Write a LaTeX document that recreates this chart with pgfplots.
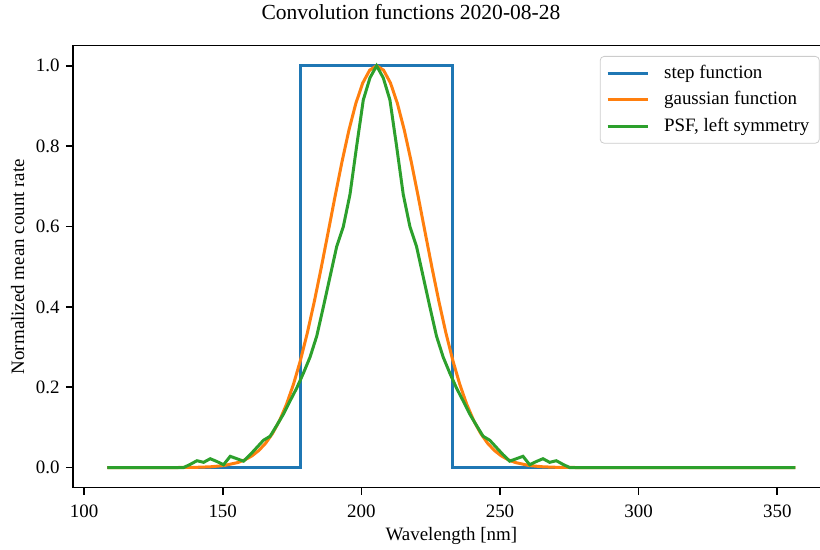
\documentclass[border=0pt]{standalone}
\usepackage{fontspec}
\setmainfont{Liberation Serif}
\usepackage{pgfplots}
\pgfplotsset{compat=1.18}
\definecolor{tabblue}{HTML}{1F77B4}
\definecolor{taborange}{HTML}{FF7F0E}
\definecolor{tabgreen}{HTML}{2CA02C}
\begin{document}
\begin{tikzpicture}
\begin{axis}[
  scale only axis,
  width=378.4bp, height=221bp,
  xmin=96.0, xmax=368.9,
  ymin=-0.05, ymax=1.05,
  xtick={100,150,200,250,300,350},
  ytick={0,0.2,0.4,0.6,0.8,1.0},
  yticklabel style={/pgf/number format/fixed, /pgf/number format/fixed zerofill, /pgf/number format/precision=1},
  /pgf/number format/assume math mode=true,
  tick align=outside,
  major tick length=3.5bp,
  every tick/.style={black, line width=0.8bp},
  axis line style={line width=0.8bp},
  xtick pos=bottom, ytick pos=left,
  ticklabel style={font=\fontsize{9.5}{11}\selectfont},
  xticklabel style={anchor=north, inner sep=0pt, yshift=-5bp},
  yticklabel style={anchor=east, inner sep=0pt, xshift=-3bp},
  label style={font=\fontsize{9.5}{11}\selectfont},
  xlabel={Wavelength [nm]},
  ylabel={Normalized mean count rate},
  xlabel style={at={(axis description cs:0.5,-0.1206)}, anchor=base, inner sep=0pt},
  ylabel style={at={(axis description cs:-0.0647,0.5)}, anchor=base, inner sep=0pt},
  title={Convolution functions 2020-08-28},
  title style={at={(axis description cs:0.4466,1.033)}, anchor=base, inner sep=0pt, font=\fontsize{10.8}{12}\selectfont},
  legend style={at={(0.9868,0.9767)}, anchor=north east, draw=black!20, rounded corners=2bp,
    font=\fontsize{9.5}{11}\selectfont, inner xsep=3bp, inner ysep=2.5bp, row sep=1.0bp, fill=white, fill opacity=0.8, text opacity=1,
    /tikz/every odd column/.append style={column sep=5.5bp}},
  legend cell align=left,
  legend image code/.code={\draw[#1] (0bp,0bp) -- (20bp,0bp);},
]
\addplot[tabblue, line width=1.5bp] coordinates {
(108.4,0) (178.1,0) (178.1,1) (232.8,1) (232.8,0) (356.5,0)};
\addlegendentry{step function}
\addplot[taborange, line width=1.5bp] coordinates {
(108.4,0) (130.5,0) (135.5,0.00019) (140.5,0.00061) (145.5,0.00183) (150.5,0.00501)
(155.5,0.01257) (158.0,0.01925) (160.5,0.02886) (163.0,0.04233) (165.5,0.06075)
(168.0,0.08528) (170.5,0.11712) (173.0,0.15738) (175.5,0.20689) (178.0,0.26610)
(180.5,0.33478) (183.0,0.41220) (185.5,0.49646) (188.0,0.58502) (190.5,0.67443)
(193.0,0.76068) (195.5,0.83940) (198.0,0.90622) (200.5,0.95718) (203.0,0.98912)
(205.5,1.0)
(208.0,0.98912) (210.5,0.95718) (213.0,0.90622) (215.5,0.83940) (218.0,0.76068)
(220.5,0.67443) (223.0,0.58502) (225.5,0.49646) (228.0,0.41220) (230.5,0.33478)
(233.0,0.26610) (235.5,0.20689) (238.0,0.15738) (240.5,0.11712) (243.0,0.08528)
(245.5,0.06075) (248.0,0.04233) (250.5,0.02886) (253.0,0.01925) (255.5,0.01257)
(260.5,0.00501) (265.5,0.00183) (270.5,0.00061) (275.5,0.00019) (280.5,0) (356.5,0)};
\addlegendentry{gaussian function}
\addplot[tabgreen, line width=1.5bp] coordinates {
(108.4,0) (135.9,0) (138.3,0.008) (140.7,0.017) (143.1,0.013) (145.5,0.022)
(147.9,0.015) (150.3,0.007) (152.7,0.028) (155.1,0.022) (157.5,0.016)
(159.9,0.032) (162.3,0.050) (164.7,0.068) (167.1,0.078) (169.5,0.105)
(171.9,0.133) (174.3,0.166) (176.7,0.198) (179.1,0.235) (181.5,0.275)
(183.9,0.327) (186.3,0.400) (188.7,0.475) (191.1,0.550) (193.5,0.600)
(195.9,0.680) (198.3,0.800) (200.7,0.915) (203.1,0.970) (205.5,1.0)
(207.9,0.970) (210.3,0.915) (212.7,0.800) (215.1,0.680) (217.5,0.600)
(219.9,0.550) (222.3,0.475) (224.7,0.400) (227.1,0.327) (229.5,0.275)
(231.9,0.235) (234.3,0.198) (236.7,0.166) (239.1,0.133) (241.5,0.105)
(243.9,0.078) (246.3,0.068) (248.7,0.050) (251.1,0.032) (253.5,0.016)
(255.9,0.022) (258.3,0.028) (260.7,0.007) (263.1,0.015) (265.5,0.022)
(267.9,0.013) (270.3,0.017) (272.7,0.008) (275.1,0) (356.5,0)};
\addlegendentry{PSF, left symmetry}
\end{axis}
\pgfresetboundingbox
\path[use as bounding box] ([xshift=-36.5bp,yshift=-31.15bp]current axis.south west) rectangle ([xshift=-4.85bp,yshift=22.85bp]current axis.north east);
\end{tikzpicture}
\end{document}
